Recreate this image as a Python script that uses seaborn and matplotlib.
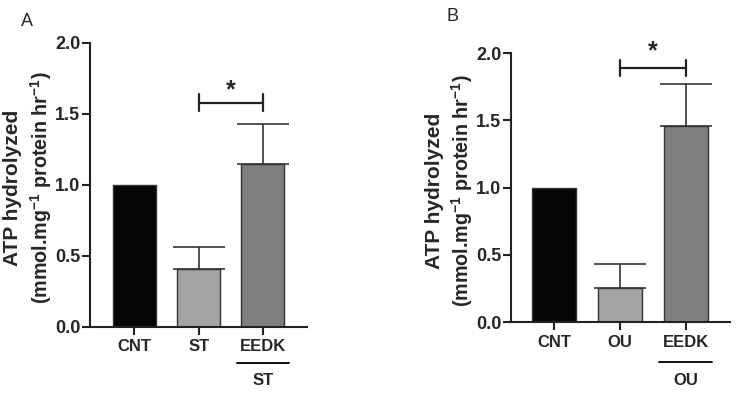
import numpy as np
import pandas as pd
import seaborn as sns
import matplotlib.pyplot as plt
import matplotlib.transforms as mtransforms

# Panel A data
groups_a = ['CNT', 'ST', 'EEDK']
means_a = [1.0, 0.41, 1.15]
sem_a = [0.0, 0.15, 0.28]
sig_a = 1.58

# Panel B data
groups_b = ['CNT', 'OU', 'EEDK']
means_b = [1.0, 0.25, 1.46]
sem_b = [0.0, 0.18, 0.31]
sig_b = 1.89

bar_colors = ['#050505', '#a3a3a7', '#7f7f7f']

sns.set_theme(style='ticks')
plt.rcParams['font.family'] = ['Liberation Sans', 'DejaVu Sans']
plt.rcParams['mathtext.fontset'] = 'custom'
plt.rcParams['mathtext.rm'] = 'Liberation Sans:bold'
plt.rcParams['mathtext.bf'] = 'Liberation Sans:bold'
plt.rcParams['mathtext.default'] = 'bf'


def draw_panel(ax, groups, means, sem, sig_y, star_off, under_label, under_y, letter, letter_xy, xlim):
    df = pd.DataFrame({'group': groups, 'value': means})
    sns.barplot(data=df, x='group', y='value', hue='group', palette=bar_colors,
                order=groups, errorbar=None, width=0.67, edgecolor='#333333',
                linewidth=1.0, legend=False, ax=ax)
    x = np.arange(len(groups))
    for xi, m, e in zip(x, means, sem):
        if e > 0:
            ax.errorbar(xi, m, yerr=[[0], [e]], fmt='none', ecolor='#333333',
                        elinewidth=1.2, capsize=19, capthick=1.2, zorder=1)

    # significance bracket between group 1 and 2
    ax.plot([1, 2], [sig_y, sig_y], color='#222222', lw=1.6)
    ax.plot([1, 1], [sig_y - 0.06, sig_y + 0.06], color='#222222', lw=1.6)
    ax.plot([2, 2], [sig_y - 0.06, sig_y + 0.06], color='#222222', lw=1.6)
    ax.text(1.5, sig_y + star_off, '*', ha='center', va='center', fontsize=18, fontweight='bold')

    ax.set_ylim(0, 2.0)
    ax.set_xlim(*xlim)
    ax.set_yticks([0.0, 0.5, 1.0, 1.5, 2.0])
    ax.set_yticklabels(['0.0', '0.5', '1.0', '1.5', '2.0'], fontweight='bold', fontsize=13)
    ax.set_xticks(x)
    ax.set_xticklabels(groups, fontweight='bold', fontsize=12)
    ax.set_xlabel('')
    ax.set_ylabel('')
    sns.despine(ax=ax)
    for s in ['left', 'bottom']:
        ax.spines[s].set_linewidth(1.5)
        ax.spines[s].set_color('#222222')
    ax.tick_params(axis='both', width=1.5, length=6, color='#222222', pad=1)
    ax.tick_params(axis='x', pad=3)

    # two-line y label
    fig = ax.figure
    pos = ax.get_position()
    yc = (pos.y0 + pos.y1) / 2 - 0.008
    fig.text(pos.x0 - 77 / 737, yc, 'ATP hydrolyzed', rotation=90, ha='center',
             va='center', fontsize=15, fontweight='bold')
    fig.text(pos.x0 - 49 / 737, yc, '(mmol.mg$^{-1}$ protein hr$^{-1}$)', rotation=90,
             ha='center', va='center', fontsize=14.2, fontweight='bold')

    # line + treatment label under EEDK
    trans = mtransforms.blended_transform_factory(ax.transData, ax.transAxes)
    ax.plot([1.59, 2.40], [under_y[0], under_y[0]], color='#111111', lw=1.4,
            clip_on=False, transform=trans)
    ax.text(2, under_y[1], under_label, ha='center', va='center', fontsize=12,
            fontweight='bold', clip_on=False, transform=trans)

    fig.text(letter_xy[0], letter_xy[1], letter, fontsize=13, ha='left', va='center')


fig = plt.figure(figsize=(7.37, 3.95), dpi=100)
ax_a = fig.add_axes([0.1221, 0.1722, 0.2944, 0.719])
ax_b = fig.add_axes([0.6934, 0.1848, 0.2972, 0.681])

draw_panel(ax_a, groups_a, means_a, sem_a, sig_a, 0.085, 'ST', (-0.127, -0.187),
           'A', (0.028, 0.945), (-0.69, 2.685))
draw_panel(ax_b, groups_b, means_b, sem_b, sig_b, 0.12, 'OU', (-0.149, -0.216),
           'B', (0.606, 0.957), (-0.66, 2.67))

fig.savefig('out.png', dpi=100, facecolor='white')
